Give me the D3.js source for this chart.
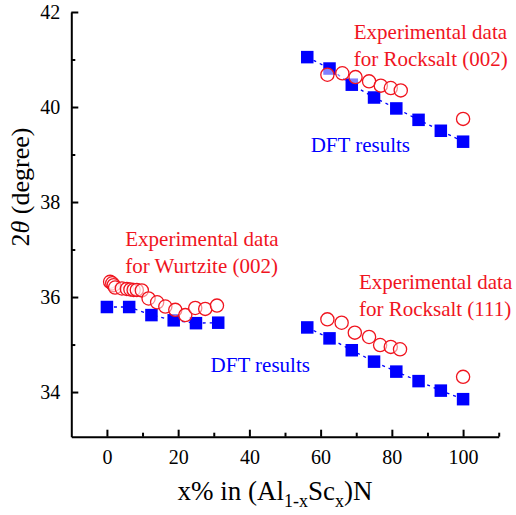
<!DOCTYPE html>
<html>
<head>
<meta charset="utf-8">
<script src="https://cdn.jsdelivr.net/npm/d3@7"></script>
<style>
  body { margin: 0; background: #fff; }
  svg text { font-family: "Liberation Serif", "DejaVu Serif", serif !important; }
</style>
</head>
<body>
<div id="chart"></div>
<script>
// x% of Sc in (Al1-xScx)N
const wurtziteDftX = [0, 6.25, 12.5, 18.75, 25, 31.25];
const wurtziteDftY = [35.79, 35.79, 35.62, 35.51, 35.45, 35.46];
const wurtziteExpX = [0.9, 1.5, 1.9, 2.3, 4.2, 5.6, 6.6, 7.5, 8.4, 9.8, 11.7, 14.1, 16.4, 19.2, 22.0, 24.8, 27.6, 30.9];
const wurtziteExpY = [36.32, 36.29, 36.25, 36.20, 36.18, 36.17, 36.16, 36.15, 36.15, 36.14, 35.97, 35.89, 35.80, 35.73, 35.62, 35.77, 35.75, 35.82];

const rs002DftX = [56.25, 62.5, 68.75, 75, 81.25, 87.5, 93.75, 100];
const rs002DftY = [41.05, 40.81, 40.47, 40.20, 39.97, 39.73, 39.50, 39.27];
const rs002ExpX = [61.9, 66.1, 69.8, 73.6, 76.9, 79.7, 82.5, 100];
const rs002ExpY = [40.68, 40.71, 40.63, 40.54, 40.45, 40.40, 40.35, 39.75];

const rs111DftX = [56.25, 62.5, 68.75, 75, 81.25, 87.5, 93.75, 100];
const rs111DftY = [35.36, 35.13, 34.88, 34.64, 34.43, 34.23, 34.03, 33.85];
const rs111ExpX = [61.9, 65.9, 69.6, 73.6, 76.7, 79.7, 82.3, 100];
const rs111ExpY = [35.53, 35.46, 35.25, 35.16, 34.99, 34.95, 34.90, 34.32];

const xTicks = [0, 20, 40, 60, 80, 100];
const xMinorTicks = [10, 30, 50, 70, 90, 110];
const yTicks = [34, 36, 38, 40, 42];
const yMinorTicks = [35, 37, 39, 41];

const labels = [
  {x: 69.3, y: 41.43, lines: ['Experimental data', 'for Rocksalt (002)'], color: 'red'},
  {x: 57.2, y: 39.06, lines: ['DFT results'], color: 'blue'},
  {x: 5.15, y: 37.08, lines: ['Experimental data', 'for Wurtzite (002)'], color: 'red'},
  {x: 29.1, y: 34.43, lines: ['DFT results'], color: 'blue'},
  {x: 70.75, y: 36.16, lines: ['Experimental data', 'for Rocksalt (111)'], color: 'red'}
];

const RED = '#f0141e';
const BLUE = '#0000ff';
const FONT = '"Liberation Serif", "DejaVu Serif", serif';
const WIDTH = 516, HEIGHT = 515;

const svg = d3.select('#chart').append('svg')
  .attr('width', WIDTH)
  .attr('height', HEIGHT)
  .attr('font-family', FONT);

const x = d3.scaleLinear().domain([-10, 110]).range([71.3, 498.7]);
const y = d3.scaleLinear().domain([33.06, 42]).range([436.7, 12]);

// axes
function drawAxis(axis, transform) {
  const g = svg.append('g').attr('transform', transform).call(axis)
    .attr('font-family', FONT);
  g.selectAll('path, line').attr('stroke', '#000').attr('stroke-width', 2);
  g.selectAll('text').attr('font-size', 20).attr('fill', '#000');
  return g;
}

drawAxis(d3.axisBottom(x).tickValues(xTicks).tickSize(-7).tickSizeOuter(0).tickPadding(13),
  `translate(0,${y(33.06)})`);
drawAxis(d3.axisBottom(x).tickValues(xMinorTicks).tickSize(-4).tickSizeOuter(0).tickFormat(''),
  `translate(0,${y(33.06)})`).select('.domain').remove();
drawAxis(d3.axisLeft(y).tickValues(yTicks).tickSize(-7).tickSizeOuter(0).tickPadding(11),
  `translate(${x(-10)},0)`);
drawAxis(d3.axisLeft(y).tickValues(yMinorTicks).tickSize(-4).tickSizeOuter(0).tickFormat(''),
  `translate(${x(-10)},0)`).select('.domain').remove();

// axis titles
const xTitle = svg.append('text')
  .attr('x', 275).attr('y', 500)
  .attr('text-anchor', 'middle')
  .attr('font-size', 27);
xTitle.append('tspan').text('x% in (Al');
xTitle.append('tspan').attr('font-size', 18).attr('dy', 7).text('1-x');
xTitle.append('tspan').attr('dy', -7).text('Sc');
xTitle.append('tspan').attr('font-size', 18).attr('dy', 7).text('x');
xTitle.append('tspan').attr('dy', -7).text(')N');

const yTitle = svg.append('text')
  .attr('transform', 'translate(29,187) rotate(-90)')
  .attr('text-anchor', 'middle')
  .attr('font-size', 26);
yTitle.append('tspan').text('2');
yTitle.append('tspan').attr('font-style', 'italic').text('θ');
yTitle.append('tspan').text(' (degree)');

// series
const series = [
  {xs: wurtziteDftX, ys: wurtziteDftY, kind: 'dft'},
  {xs: rs002DftX, ys: rs002DftY, kind: 'dft'},
  {xs: rs111DftX, ys: rs111DftY, kind: 'dft'},
  {xs: wurtziteExpX, ys: wurtziteExpY, kind: 'exp'},
  {xs: rs002ExpX, ys: rs002ExpY, kind: 'exp'},
  {xs: rs111ExpX, ys: rs111ExpY, kind: 'exp'}
];

const line = d3.line().x(d => x(d[0])).y(d => y(d[1]));
const SQ = 12.5;

series.forEach(s => {
  const pts = s.xs.map((v, i) => [v, s.ys[i]]);
  if (s.kind === 'dft') {
    svg.append('path').datum(pts)
      .attr('d', line)
      .attr('fill', 'none')
      .attr('stroke', BLUE)
      .attr('stroke-width', 1.3)
      .attr('stroke-dasharray', '3,4');
    svg.append('g').selectAll('rect').data(pts).join('rect')
      .attr('x', d => x(d[0]) - SQ / 2)
      .attr('y', d => y(d[1]) - SQ / 2)
      .attr('width', SQ).attr('height', SQ)
      .attr('fill', BLUE);
  } else {
    svg.append('g').selectAll('circle').data(pts).join('circle')
      .attr('cx', d => x(d[0]))
      .attr('cy', d => y(d[1]))
      .attr('r', 6.6)
      .attr('fill', '#fff')
      .attr('fill-opacity', 0.5)
      .attr('stroke', RED)
      .attr('stroke-width', 1.3);
  }
});

// annotations
labels.forEach(l => {
  const t = svg.append('text')
    .attr('x', x(l.x)).attr('y', y(l.y))
    .attr('font-size', 21)
    .attr('fill', l.color === 'red' ? RED : BLUE);
  l.lines.forEach((s, i) => {
    t.append('tspan').attr('x', x(l.x)).attr('dy', i === 0 ? 0 : 27).text(s);
  });
});
</script>
</body>
</html>
